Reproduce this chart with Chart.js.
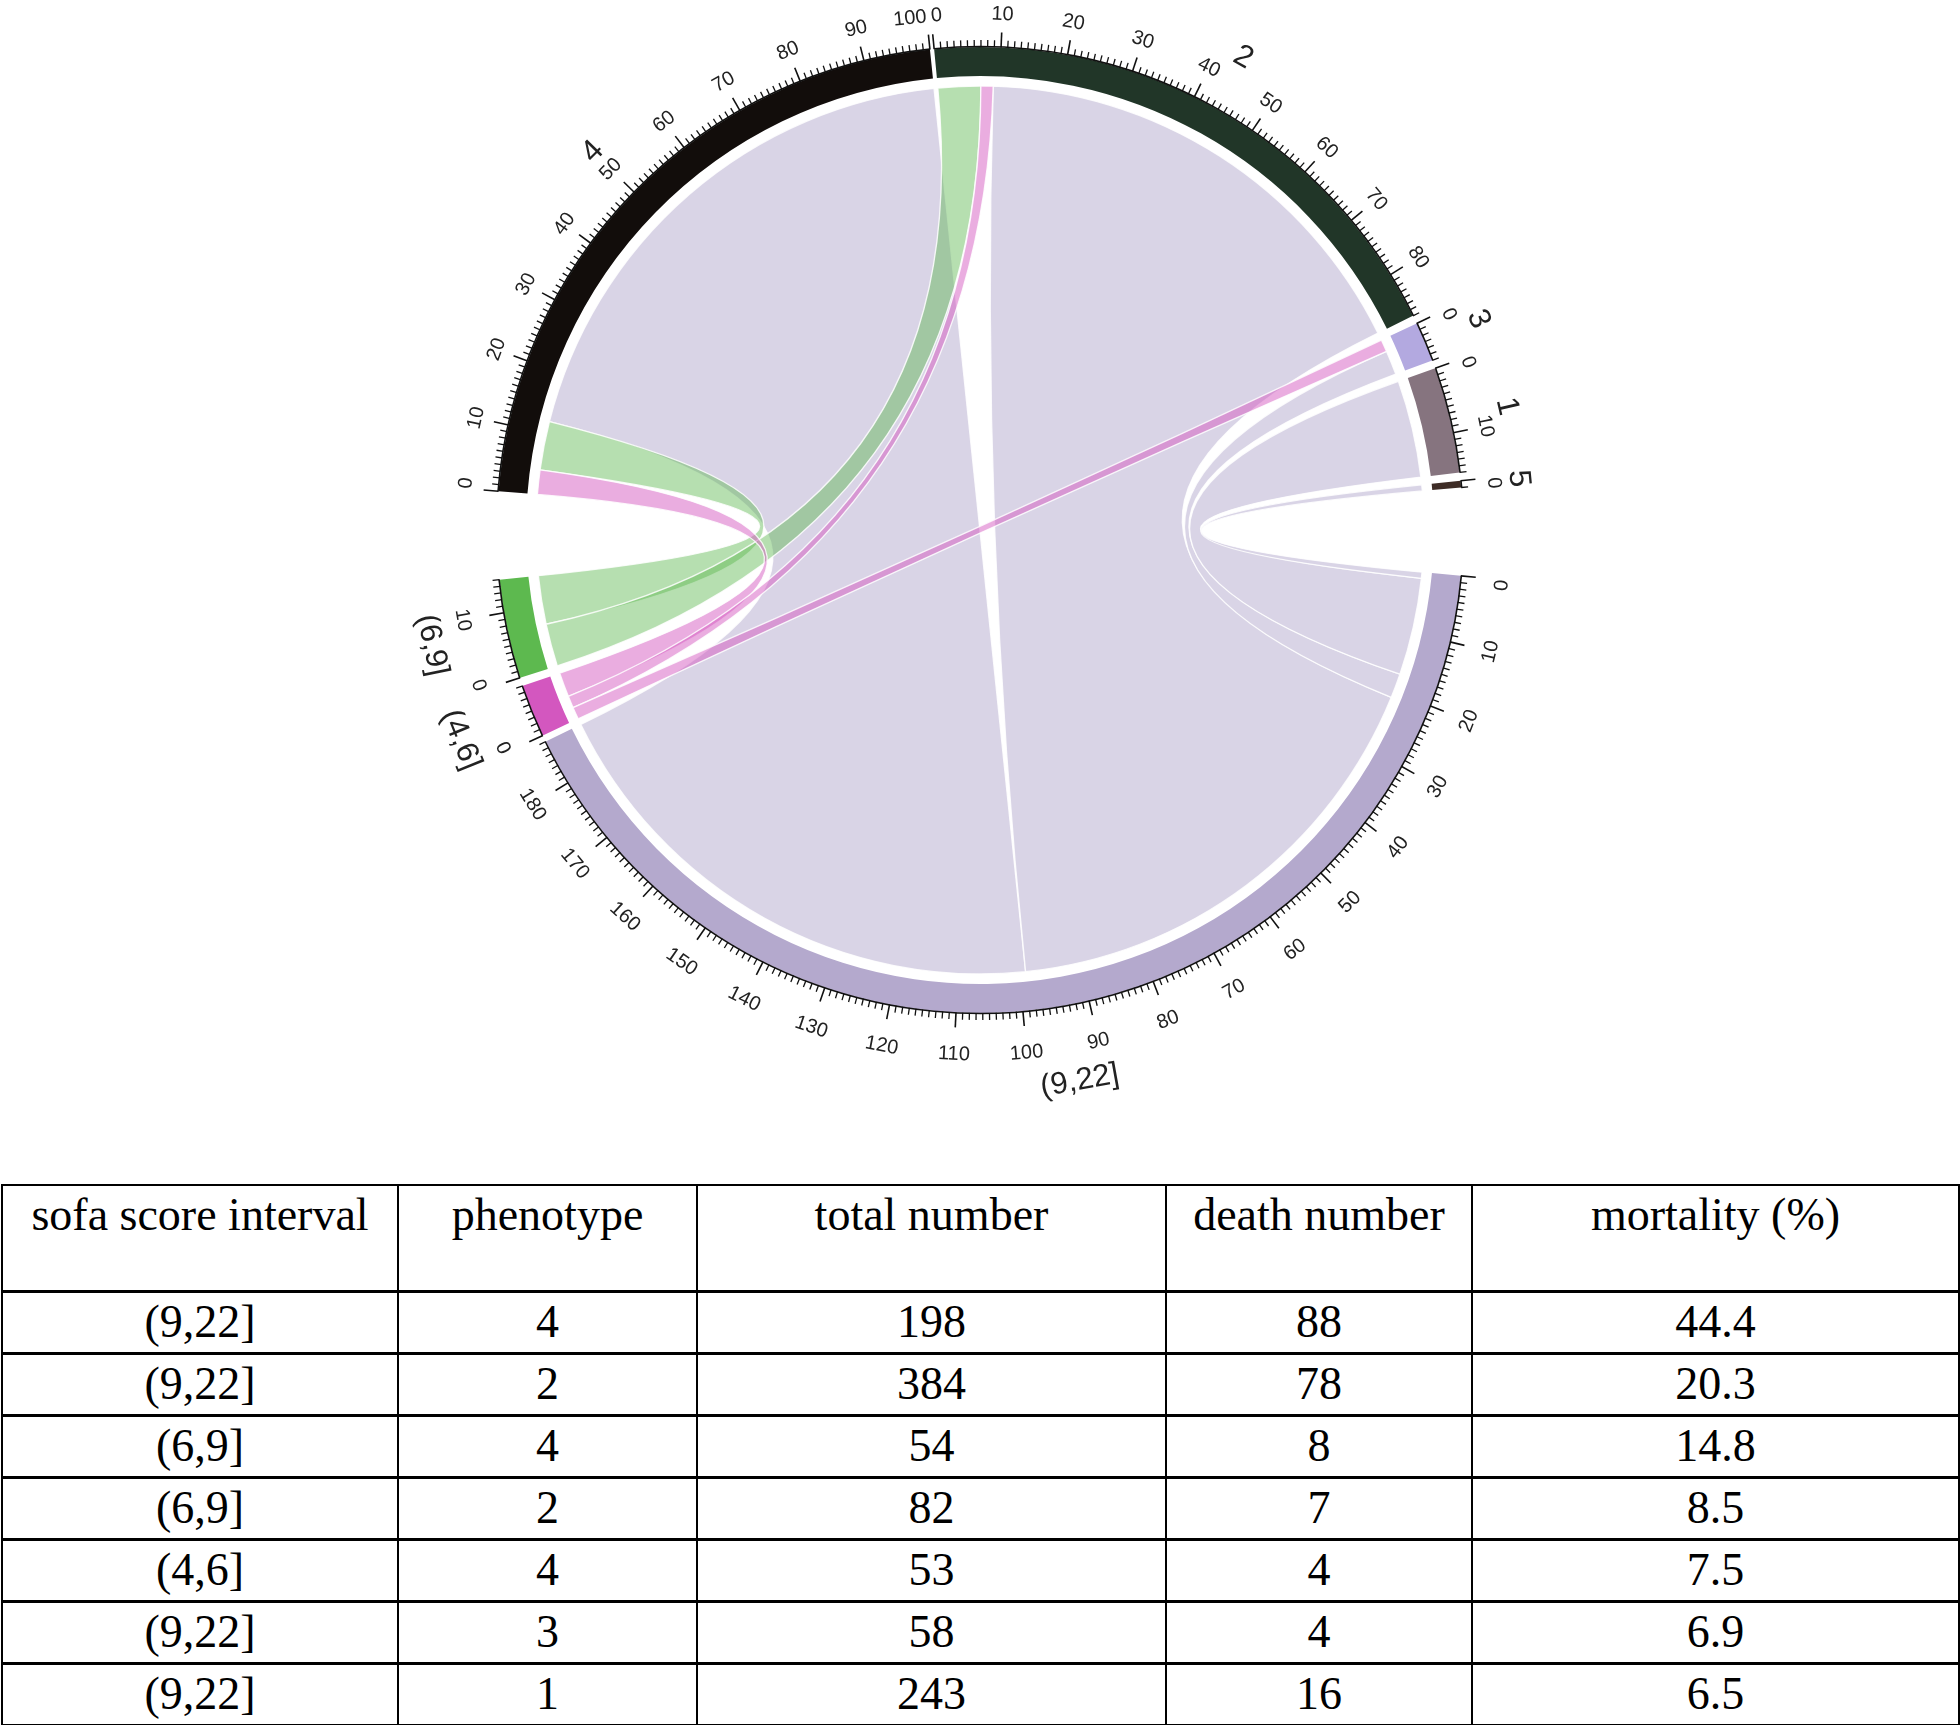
<!DOCTYPE html>
<html><head><meta charset="utf-8">
<script src="https://cdn.jsdelivr.net/npm/chart.js@4.4.1/dist/chart.umd.min.js"></script>
<style>
html,body{margin:0;padding:0;background:#fff;width:1960px;height:1725px;overflow:hidden;}
#wrap{position:absolute;left:0;top:0;width:1960px;height:1170px;}
#tbl{position:absolute;left:1px;top:1184px;width:1957px;border-collapse:collapse;table-layout:fixed;
  font-family:"Liberation Serif","Times New Roman",serif;font-size:46px;color:#000;}
#tbl td,#tbl th{border:2px solid #000;text-align:center;padding:0;font-weight:normal;}
#tbl tr.h{height:106px;}
#tbl tr.h th{vertical-align:top;padding-top:3px;line-height:1.15;}
#tbl tr.r{height:62px;}
#tbl tr.r td{vertical-align:middle;line-height:1;border-top-width:3px;}
</style></head>
<body>
<div id="wrap"><canvas id="c" width="1960" height="1170"></canvas></div>
<table id="tbl"></table>
<script>
// ---------------- DATA ----------------
const phenotypes = ['4', '2', '3', '1', '5'];
const intervals = ['(9,22]', '(4,6]', '(6,9]'];
// death numbers linking each phenotype (same order as phenotypes) to a sofa interval
const deathsTo9_22 = [88, 78, 4, 16, 1];
const deathsTo4_6  = [4, 2, 2, 0, 0];
const deathsTo6_9  = [8, 7, 0, 0, 0];

const tableHeader  = ['sofa score interval', 'phenotype', 'total number', 'death number', 'mortality (%)'];
const rowInterval  = ['(9,22]', '(9,22]', '(6,9]', '(6,9]', '(4,6]', '(9,22]', '(9,22]'];
const rowPhenotype = ['4', '2', '4', '2', '4', '3', '1'];
const rowTotal     = ['198', '384', '54', '82', '53', '58', '243'];
const rowDeath     = ['88', '78', '8', '7', '4', '4', '16'];
const rowMortality = ['44.4', '20.3', '14.8', '8.5', '7.5', '6.9', '6.5'];

// ---------------- STYLE / LAYOUT ----------------
const sectorColors = {'4':'#120d0b','2':'#213628','3':'#b3a9e0','1':'#86747f','5':'#3e2c26',
  '(9,22]':'#b4a9cd','(4,6]':'#d357bf','(6,9]':'#5db94f'};
const linkColors = {'(9,22]':'rgba(180,169,205,0.5)','(4,6]':'rgba(214,92,194,0.5)','(6,9]':'rgba(93,185,79,0.45)'};
const gapsDeg = [0.5, 1, 1, 1, 10.5, 0.8, 1, 10.5]; // gap after each sector
const startDeg = 175.4; // math angle of first sector start
const phenoLinkOrder = {'4':['(4,6]','(6,9]','(9,22]'], '2':['(6,9]','(4,6]','(9,22]'],
  '3':['(4,6]','(9,22]'], '1':['(9,22]'], '5':['(9,22]']};
const colWidths = [396, 299, 469, 306, 487];

// ---------------- BUILD ----------------
const linkTable = [deathsTo9_22, deathsTo4_6, deathsTo6_9];
const sectors = phenotypes.concat(intervals);
const sizes = sectors.map((s, k) => k < phenotypes.length
  ? linkTable.reduce((a, arr) => a + arr[k], 0)
  : linkTable[k - phenotypes.length].reduce((a, b) => a + b, 0));
const totalUnits = sizes.reduce((a, b) => a + b, 0);
const unitDeg = (360 - gapsDeg.reduce((a, b) => a + b, 0)) / totalUnits;
const ringData = [], ringColors = [], sectorDataIdx = [];
sectors.forEach((s, k) => {
  sectorDataIdx.push(ringData.length);
  ringData.push(sizes[k]); ringColors.push(sectorColors[s]);
  ringData.push(gapsDeg[k] / unitDeg); ringColors.push('rgba(0,0,0,0)');
});

const links = [];
const offsets = sizes.map(() => 0);
const pos = {};
phenotypes.forEach((p, k) => {
  phenoLinkOrder[p].forEach(iv => {
    const j = intervals.indexOf(iv);
    const v = linkTable[j][k];
    if (!v) return;
    pos[p + '|' + iv] = {a: [offsets[k], offsets[k] + v]};
    offsets[k] += v;
  });
});
intervals.forEach((iv, j) => {
  const sk = phenotypes.length + j;
  phenotypes.slice().reverse().forEach(p => {
    const k = phenotypes.indexOf(p);
    const v = linkTable[j][k];
    if (!v) return;
    pos[p + '|' + iv].b = [offsets[sk], offsets[sk] + v];
    offsets[sk] += v;
  });
});
['(9,22]', '(6,9]', '(4,6]'].forEach(iv => {
  phenotypes.forEach((p, k) => {
    const key = p + '|' + iv;
    if (pos[key]) links.push({sa: k, sb: phenotypes.length + intervals.indexOf(iv), a: pos[key].a, b: pos[key].b, color: linkColors[iv]});
  });
});

// text along the circle; align is 'center' | 'start' | 'end' in the clockwise sense
function placeText(ctx, txt, cx, cy, ang, rNon, rFlip, align) {
  let phi = ang + Math.PI / 2;
  phi = ((phi % (2 * Math.PI)) + 2 * Math.PI) % (2 * Math.PI);
  let flipped = false;
  if (phi > Math.PI / 2 && phi <= 3 * Math.PI / 2) { phi -= Math.PI; flipped = true; }
  const r = flipped ? rFlip : rNon;
  ctx.save();
  ctx.translate(cx + r * Math.cos(ang), cy + r * Math.sin(ang));
  ctx.rotate(phi);
  ctx.textAlign = align === 'center' ? 'center' : (((align === 'start') !== flipped) ? 'left' : 'right');
  ctx.textBaseline = 'middle';
  ctx.fillText(txt, 0, 0);
  ctx.restore();
}

const chordPlugin = {
  id: 'chords',
  afterDatasetsDraw(chart) {
    const ctx = chart.ctx;
    const meta = chart.getDatasetMeta(0);
    const arcs = sectorDataIdx.map(i => meta.data[i]);
    const cx = arcs[0].x, cy = arcs[0].y;
    const R = arcs[0].outerRadius;
    const rc = arcs[0].innerRadius - 10;
    const angleAt = (s, v) => arcs[s].startAngle + (arcs[s].endAngle - arcs[s].startAngle) * v / sizes[s];
    const P = a => [cx + rc * Math.cos(a), cy + rc * Math.sin(a)];
    links.forEach(L => {
      const A0 = angleAt(L.sa, L.a[0]), A1 = angleAt(L.sa, L.a[1]);
      const B0 = angleAt(L.sb, L.b[0]), B1 = angleAt(L.sb, L.b[1]);
      ctx.save();
      ctx.beginPath();
      const p0 = P(A0); ctx.moveTo(p0[0], p0[1]);
      ctx.arc(cx, cy, rc, A0, A1, false);
      const pb = P(B0); ctx.quadraticCurveTo(cx, cy, pb[0], pb[1]);
      ctx.arc(cx, cy, rc, B0, B1, false);
      ctx.quadraticCurveTo(cx, cy, p0[0], p0[1]);
      ctx.closePath();
      ctx.fillStyle = L.color; ctx.fill();
      ctx.strokeStyle = 'rgba(255,255,255,0.85)'; ctx.lineWidth = 1.3; ctx.stroke();
      ctx.restore();
    });
    ctx.save();
    ctx.strokeStyle = '#111';
    sectors.forEach((s, k) => {
      const a0 = arcs[k].startAngle, a1 = arcs[k].endAngle;
      ctx.lineWidth = 1.6;
      ctx.beginPath(); ctx.arc(cx, cy, R + 0.5, a0, a1, false); ctx.stroke();
      const nMax = Math.floor(sizes[k]);
      const lastLab = Math.floor(nMax / 10) * 10;
      ctx.font = '20px "Liberation Sans", Arial, sans-serif';
      ctx.fillStyle = '#222';
      for (let v = 0; v <= nMax; v++) {
        const a = angleAt(k, v);
        const major = v % 10 === 0;
        const len = major ? 15 : 7;
        ctx.lineWidth = major ? 1.6 : 1.3;
        ctx.beginPath();
        ctx.moveTo(cx + R * Math.cos(a), cy + R * Math.sin(a));
        ctx.lineTo(cx + (R + len) * Math.cos(a), cy + (R + len) * Math.sin(a));
        ctx.stroke();
        if (major) {
          const txt = String(v);
          const half = ctx.measureText(txt).width / 2 / (R + 36);
          let align = 'center';
          if (v === 0) align = 'start';
          else if (v === lastLab && a + half > a1) align = 'end';
          placeText(ctx, txt, cx, cy, a, R + 33, R + 42, align);
        }
      }
      ctx.fillStyle = '#222';
      ctx.font = '31px "Liberation Sans", Arial, sans-serif';
      placeText(ctx, s, cx, cy, (a0 + a1) / 2, R + 58, R + 77, 'center');
    });
    ctx.restore();
  }
};

new Chart(document.getElementById('c'), {
  type: 'doughnut',
  data: { labels: ringData.map((_, i) => 'r' + i),
    datasets: [{ data: ringData, backgroundColor: ringColors, borderWidth: 0, hoverOffset: 0 }] },
  options: {
    responsive: false, animation: false, events: [],
    rotation: 90 - startDeg,
    cutout: 454,
    layout: { padding: { top: 47, bottom: 157, left: 497, right: 497 } },
    plugins: { legend: { display: false }, tooltip: { enabled: false } }
  },
  plugins: [chordPlugin]
});

// ---------------- TABLE ----------------
const tbl = document.getElementById('tbl');
const cg = document.createElement('colgroup');
colWidths.forEach(w => { const c = document.createElement('col'); c.style.width = w + 'px'; cg.appendChild(c); });
tbl.appendChild(cg);
const hr = document.createElement('tr'); hr.className = 'h';
tableHeader.forEach(h => { const th = document.createElement('th'); th.textContent = h; hr.appendChild(th); });
tbl.appendChild(hr);
rowInterval.forEach((iv, r) => {
  const tr = document.createElement('tr'); tr.className = 'r';
  [iv, rowPhenotype[r], rowTotal[r], rowDeath[r], rowMortality[r]].forEach(t => {
    const td = document.createElement('td'); td.textContent = t; tr.appendChild(td);
  });
  tbl.appendChild(tr);
});
</script>
</body></html>
